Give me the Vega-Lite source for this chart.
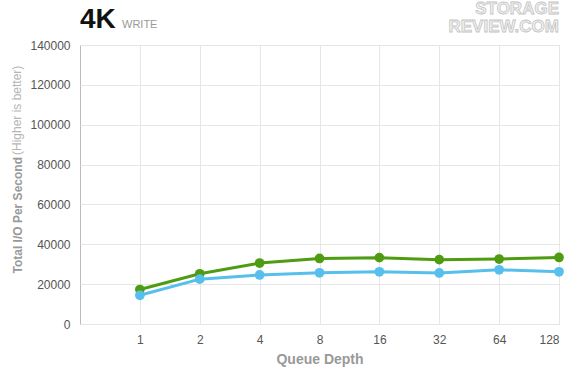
{
  "$schema": "https://vega.github.io/schema/vega-lite/v6.json",
  "width": 479,
  "height": 279,
  "autosize": {"type": "none"},
  "padding": {"left": 80, "top": 45, "right": 21, "bottom": 66},
  "background": "white",
  "config": {
    "font": "Liberation Sans",
    "view": {"stroke": "#bbbbbb", "strokeWidth": 1},
    "axis": {"labelOverlap": false}
  },
  "datasets": {
    "series": [
      {"qd": 1, "iops": 17300, "s": "A"},
      {"qd": 2, "iops": 25200, "s": "A"},
      {"qd": 4, "iops": 30600, "s": "A"},
      {"qd": 8, "iops": 32900, "s": "A"},
      {"qd": 16, "iops": 33300, "s": "A"},
      {"qd": 32, "iops": 32300, "s": "A"},
      {"qd": 64, "iops": 32600, "s": "A"},
      {"qd": 128, "iops": 33400, "s": "A"},
      {"qd": 1, "iops": 14400, "s": "B"},
      {"qd": 2, "iops": 22500, "s": "B"},
      {"qd": 4, "iops": 24600, "s": "B"},
      {"qd": 8, "iops": 25700, "s": "B"},
      {"qd": 16, "iops": 26200, "s": "B"},
      {"qd": 32, "iops": 25600, "s": "B"},
      {"qd": 64, "iops": 27200, "s": "B"},
      {"qd": 128, "iops": 26200, "s": "B"}
    ],
    "labels": [
      {"t": "4K", "k": "title"},
      {"t": "WRITE", "k": "sub"},
      {"t": "(Higher is better)", "k": "yt2"},
      {"t": ["STORAGE", "REVIEW.COM"], "k": "wm"}
    ]
  },
  "layer": [
    {
      "data": {"name": "series"},
      "encoding": {
        "x": {
          "field": "qd", "type": "quantitative",
          "scale": {"type": "log", "base": 2, "domain": [0.5, 128], "nice": false},
          "axis": {
            "values": [1, 2, 4, 8, 16, 32, 64, 128],
            "grid": true, "gridColor": "#e6e6e6", "domain": false, "ticks": false,
            "labelFontSize": 12, "labelColor": "#555555", "labelPadding": 10, "labelOverlap": false,
            "format": "d",
            "title": "Queue Depth", "titleFontSize": 14, "titleFontWeight": "bold", "titleColor": "#999999", "titlePadding": 7
          }
        },
        "y": {
          "field": "iops", "type": "quantitative",
          "scale": {"domain": [0, 140000], "nice": false},
          "axis": {
            "values": [0, 20000, 40000, 60000, 80000, 100000, 120000, 140000],
            "grid": true, "gridColor": "#e6e6e6", "domain": false, "ticks": false,
            "labelFontSize": 12, "labelColor": "#555555", "labelPadding": 10, "labelOverlap": false, "labelBound": false, "labelFlush": false,
            "format": "d",
            "title": "Total I/O Per Second", "titleFontSize": 12, "titleFontWeight": "bold", "titleColor": "#999999",
            "titleAngle": 270, "titleAlign": "left", "titleBaseline": "middle", "titleX": -63, "titleY": 228
          }
        },
        "color": {
          "field": "s", "type": "nominal",
          "scale": {"domain": ["A", "B"], "range": ["#4f9c12", "#56bfec"]},
          "legend": null
        }
      },
      "layer": [
        {"mark": {"type": "line", "strokeWidth": 3}},
        {"mark": {"type": "circle", "size": 95, "opacity": 1}}
      ]
    },
    {
      "data": {"name": "labels"},
      "transform": [{"filter": "datum.k == 'title'"}],
      "mark": {"type": "text", "fontSize": 28, "fontWeight": "bold", "color": "#111111", "align": "left", "baseline": "alphabetic", "x": 0, "y": -17},
      "encoding": {"text": {"field": "t"}}
    },
    {
      "data": {"name": "labels"},
      "transform": [{"filter": "datum.k == 'sub'"}],
      "mark": {"type": "text", "fontSize": 11, "color": "#999999", "align": "left", "baseline": "alphabetic", "x": 42, "y": -17},
      "encoding": {"text": {"field": "t"}}
    },
    {
      "data": {"name": "labels"},
      "transform": [{"filter": "datum.k == 'yt2'"}],
      "mark": {"type": "text", "fontSize": 12, "color": "#b5b5b5", "angle": 270, "align": "left", "baseline": "middle", "x": -63, "y": 110},
      "encoding": {"text": {"field": "t"}}
    },
    {
      "data": {"name": "labels"},
      "transform": [{"filter": "datum.k == 'wm'"}],
      "mark": {"type": "text", "fontSize": 17, "lineHeight": 18, "fontWeight": "bold", "fill": "#f2f2f2", "stroke": "#c4c4c4", "strokeWidth": 0.8, "align": "right", "baseline": "top", "x": 479, "y": -44},
      "encoding": {"text": {"field": "t"}}
    }
  ]
}
